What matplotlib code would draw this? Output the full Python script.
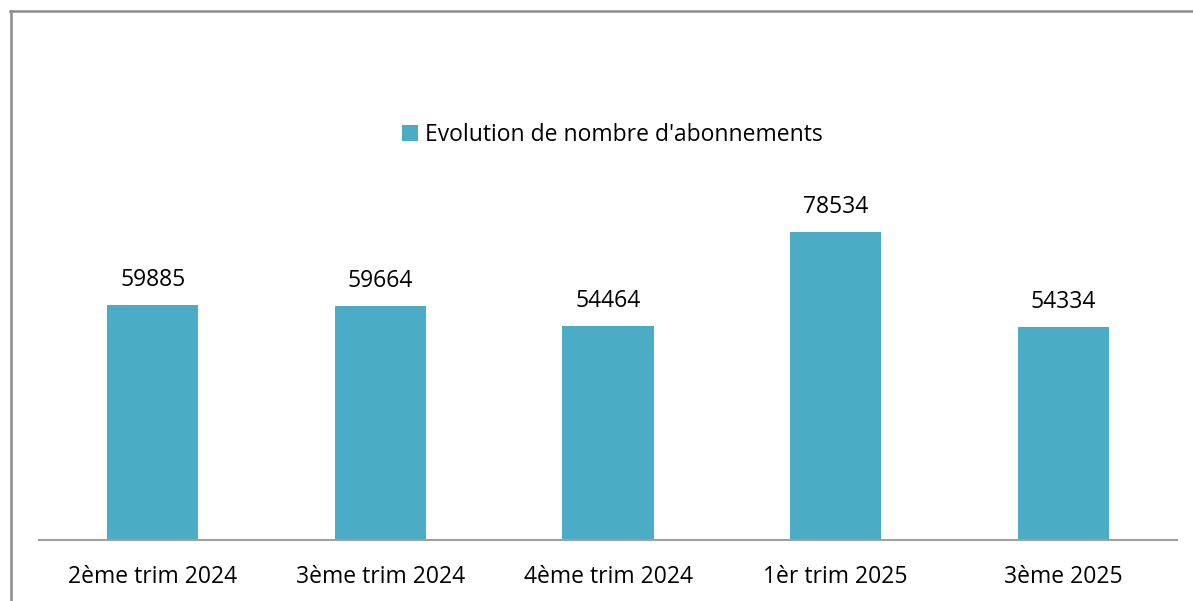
import matplotlib

matplotlib.use("Agg")
import matplotlib.pyplot as plt
from matplotlib.lines import Line2D
from matplotlib.patches import Patch

BAR = "#4BACC6"
INK = "#000000"
FRAME = "#8C8C8C"
AXIS = "#A0A0A0"

categories = ["2ème trim 2024", "3ème trim 2024", "4ème trim 2024", "1èr trim 2025", "3ème 2025"]
abonnements = [59885, 59664, 54464, 78534, 54334]
series_label = "Evolution de nombre d'abonnements"

plt.rcParams["font.family"] = ["Open Sans", "DejaVu Sans"]

W, H = 1193, 601
fig = plt.figure(figsize=(W / 100, H / 100), dpi=100)

# plot area in pixel units
left, right, top, bottom = 39, 1177, 187, 540
ax = fig.add_axes([left / W, 1 - bottom / H, (right - left) / W, (bottom - top) / H])

x = range(len(categories))
bars = ax.bar(x, abonnements, width=0.4, color=BAR)
ax.set_xlim(-0.5, len(categories) - 0.5)
ax.set_ylim(0, 90000)

for bar, value in zip(bars, abonnements):
    ax.annotate(
        f"{value}",
        (bar.get_x() + bar.get_width() / 2, value),
        xytext=(0, 9.5),
        textcoords="offset points",
        ha="center",
        va="bottom",
        fontsize=16.5,
        color=INK,
    )

for side in ["left", "right", "top"]:
    ax.spines[side].set_visible(False)
ax.spines["bottom"].set_color(AXIS)
ax.spines["bottom"].set_linewidth(1.5)
ax.set_yticks([])
ax.set_xticks(list(x), categories, fontsize=16.5, color=INK)
ax.tick_params(axis="x", length=0, pad=18)

fig.legend(
    handles=[Patch(facecolor=BAR, label=series_label)],
    loc="center",
    bbox_to_anchor=(612 / W, 1 - 135 / H),
    frameon=False,
    fontsize=16.5,
    handlelength=0.7,
    handleheight=0.7,
    handletextpad=0.3,
)

# chart frame (left and top edges visible)
fig.add_artist(Line2D([10.5 / W, 10.5 / W], [0, 1 - 11 / H], color=FRAME, lw=1.8))
fig.add_artist(Line2D([10 / W, 1], [1 - 11 / H, 1 - 11 / H], color=FRAME, lw=1.8))

fig.savefig("out.png", dpi=100)
